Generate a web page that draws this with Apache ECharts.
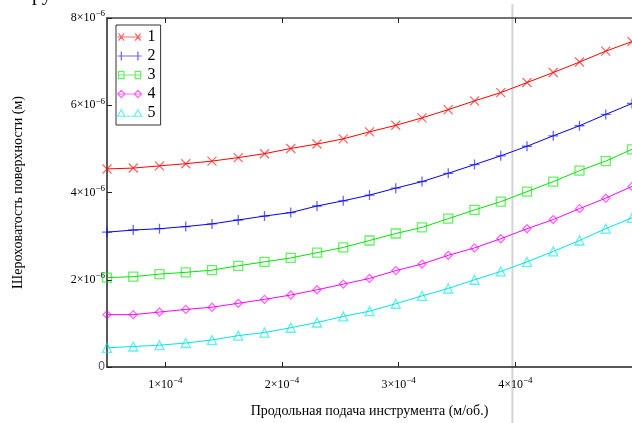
<!DOCTYPE html>
<html>
<head>
<meta charset="utf-8">
<script src="https://cdn.jsdelivr.net/npm/echarts@6/dist/echarts.min.js"></script>
<style>
html,body{margin:0;padding:0;background:#fff;}
#c{width:632px;height:423px;}
</style>
</head>
<body>
<div id="c"></div>
<script>
// Feed (m/rev)
var feed = [5.0e-5, 7.25e-5, 9.5e-5, 1.175e-4, 1.4e-4, 1.625e-4, 1.85e-4, 2.075e-4, 2.3e-4, 2.525e-4,
            2.75e-4, 2.975e-4, 3.2e-4, 3.425e-4, 3.65e-4, 3.875e-4, 4.1e-4, 4.325e-4, 4.55e-4, 4.775e-4, 5.0e-4];
var seriesNames = ['1', '2', '3', '4', '5'];
var rough1 = [4.54e-6,4.56e-6,4.61e-6,4.66e-6,4.72e-6,4.80e-6,4.89e-6,5.01e-6,5.11e-6,5.23e-6,5.39e-6,5.54e-6,5.71e-6,5.90e-6,6.10e-6,6.29e-6,6.52e-6,6.75e-6,6.99e-6,7.24e-6,7.46e-6];
var rough2 = [3.09e-6,3.14e-6,3.17e-6,3.22e-6,3.28e-6,3.37e-6,3.46e-6,3.54e-6,3.69e-6,3.81e-6,3.94e-6,4.10e-6,4.25e-6,4.44e-6,4.64e-6,4.84e-6,5.06e-6,5.30e-6,5.53e-6,5.79e-6,6.04e-6];
var rough3 = [2.05e-6,2.07e-6,2.13e-6,2.17e-6,2.22e-6,2.32e-6,2.41e-6,2.50e-6,2.62e-6,2.74e-6,2.90e-6,3.06e-6,3.20e-6,3.40e-6,3.60e-6,3.79e-6,4.02e-6,4.25e-6,4.50e-6,4.72e-6,4.99e-6];
var rough4 = [1.20e-6,1.20e-6,1.26e-6,1.32e-6,1.37e-6,1.46e-6,1.55e-6,1.65e-6,1.77e-6,1.90e-6,2.03e-6,2.21e-6,2.36e-6,2.56e-6,2.73e-6,2.94e-6,3.17e-6,3.38e-6,3.63e-6,3.87e-6,4.14e-6];
var rough5 = [0.44e-6,0.47e-6,0.50e-6,0.55e-6,0.62e-6,0.72e-6,0.79e-6,0.90e-6,1.02e-6,1.16e-6,1.28e-6,1.45e-6,1.63e-6,1.80e-6,2.00e-6,2.19e-6,2.41e-6,2.65e-6,2.90e-6,3.17e-6,3.42e-6];
var xTicks = [1e-4, 2e-4, 3e-4, 4e-4];
var xTickExp = '−4';
var yTickExp = '−6';
var xTitle = 'Продольная подача инструмента (м/об.)';
var yTitle = 'Шероховатость поверхности (м)';
var cursorX = 3.975e-4;

var colors = ['#ff0000', '#0000ff', '#00e600', '#ff00ff', '#00e5e5'];
var symbols = [
  'path://M0,0L10,10M10,0L0,10',
  'path://M5,0L5,10M0,5L10,5',
  'path://M0,0L10,0L10,10L0,10Z',
  'path://M5,0L10,5L5,10L0,5Z',
  'path://M5,0L10,9L0,9Z'
];
var legendIcons = [
  'path://M0,5L26,5M1,1L7,9M7,1L1,9M19,1L25,9M25,1L19,9',
  'path://M0,5L26,5M4,0L4,10M22,0L22,10',
  'path://M0,5L26,5M1,1L7,1L7,9L1,9ZM19,1L25,1L25,9L19,9Z',
  'path://M0,5L26,5M4,1L8,5L4,9L0,5ZM22,1L26,5L22,9L18,5Z',
  'path://M0,8L26,8M4,1L8,8L0,8ZM22,1L26,8L18,8Z'
];
var sizes = [9, 10, 9, 8, 9];
var allData = [rough1, rough2, rough3, rough4, rough5];

var serif = '"Liberation Serif", "DejaVu Serif", serif';

var series = allData.map(function (arr, i) {
  return {
    name: seriesNames[i],
    type: 'line',
    data: feed.map(function (x, j) { return [x, arr[j]]; }),
    symbol: symbols[i],
    symbolSize: sizes[i],
    showAllSymbol: true,
    clip: true,
    lineStyle: { color: colors[i], width: 1 },
    itemStyle: { color: 'rgba(0,0,0,0)', borderColor: colors[i], borderWidth: 1.3, opacity: 0.6 },
    emphasis: { disabled: true },
    animation: false
  };
});

function fmtExp(v, exp) {
  if (v === 0) return '0';
  var m = Math.round(v / Math.pow(10, parseInt(exp.replace('−', '-'), 10)));
  return '{a|' + m + '×10}{s|' + exp + '}';
}

var rich = {
  a: { fontFamily: serif, fontSize: 12, color: '#000' },
  s: { fontFamily: serif, fontSize: 9, color: '#000', padding: [0, 0, 8, 0] }
};

var chart = echarts.init(document.getElementById('c'), null, { renderer: 'canvas' });
chart.setOption({
  animation: false,
  backgroundColor: '#fff',
  grid: { left: 107, top: 18, right: -7, bottom: 55, containLabel: false },
  legend: {
    orient: 'vertical',
    left: 116, top: 25,
    itemWidth: 24, itemHeight: 10, itemGap: 3,
    padding: [4, 5, 4, 1],
    backgroundColor: '#fff',
    borderColor: '#333', borderWidth: 1, borderRadius: 0,
    textStyle: { fontFamily: serif, fontSize: 16, color: '#000', padding: [0, 0, 0, 1] },
    selectedMode: false,
    data: seriesNames.map(function (n, i) {
      return { name: n, icon: legendIcons[i],
        itemStyle: { color: 'rgba(0,0,0,0)', borderColor: colors[i], borderWidth: 1.2 } };
    })
  },
  xAxis: [{
    type: 'value', min: 5e-5, max: 5e-4,
    name: xTitle, nameLocation: 'middle', nameGap: 37,
    nameTextStyle: { fontFamily: serif, fontSize: 14, color: '#000' },
    axisLine: { show: true, lineStyle: { color: '#222', width: 1.5 } },
    axisTick: { show: true, inside: true, length: 5, customValues: xTicks, lineStyle: { color: '#222' } },
    axisLabel: { customValues: xTicks, margin: 9, formatter: function (v) { return fmtExp(v, xTickExp); }, rich: rich },
    splitLine: { show: false }
  }, {
    type: 'value', min: 5e-5, max: 5e-4, position: 'top',
    axisLine: { show: true, lineStyle: { color: '#444', width: 1.5 } },
    axisTick: { show: true, inside: true, length: 5, customValues: xTicks, lineStyle: { color: '#222' } },
    axisLabel: { show: false },
    splitLine: { show: false }
  }],
  yAxis: {
    type: 'value', min: 0, max: 8e-6, interval: 2e-6,
    name: yTitle, nameLocation: 'middle', nameGap: 82,
    nameTextStyle: { fontFamily: serif, fontSize: 14, color: '#000' },
    axisLine: { show: true, lineStyle: { color: '#222', width: 1.5 } },
    axisTick: { show: true, inside: true, length: 5, lineStyle: { color: '#222' } },
    axisLabel: { margin: 2, formatter: function (v) { return fmtExp(v, yTickExp); }, rich: rich },
    splitLine: { show: false }
  },
  series: series
});

var cx = chart.convertToPixel({ xAxisIndex: 0 }, cursorX);
chart.setOption({
  graphic: [
    { type: 'line', shape: { x1: cx, y1: 4, x2: cx, y2: 423 }, style: { stroke: '#d4d4d4', lineWidth: 2 }, z: 0, silent: true },
    { type: 'text', left: 32, top: -15, style: { text: 'ру', font: '20px ' + serif, fill: '#000' } }
  ]
});
</script>
</body>
</html>
